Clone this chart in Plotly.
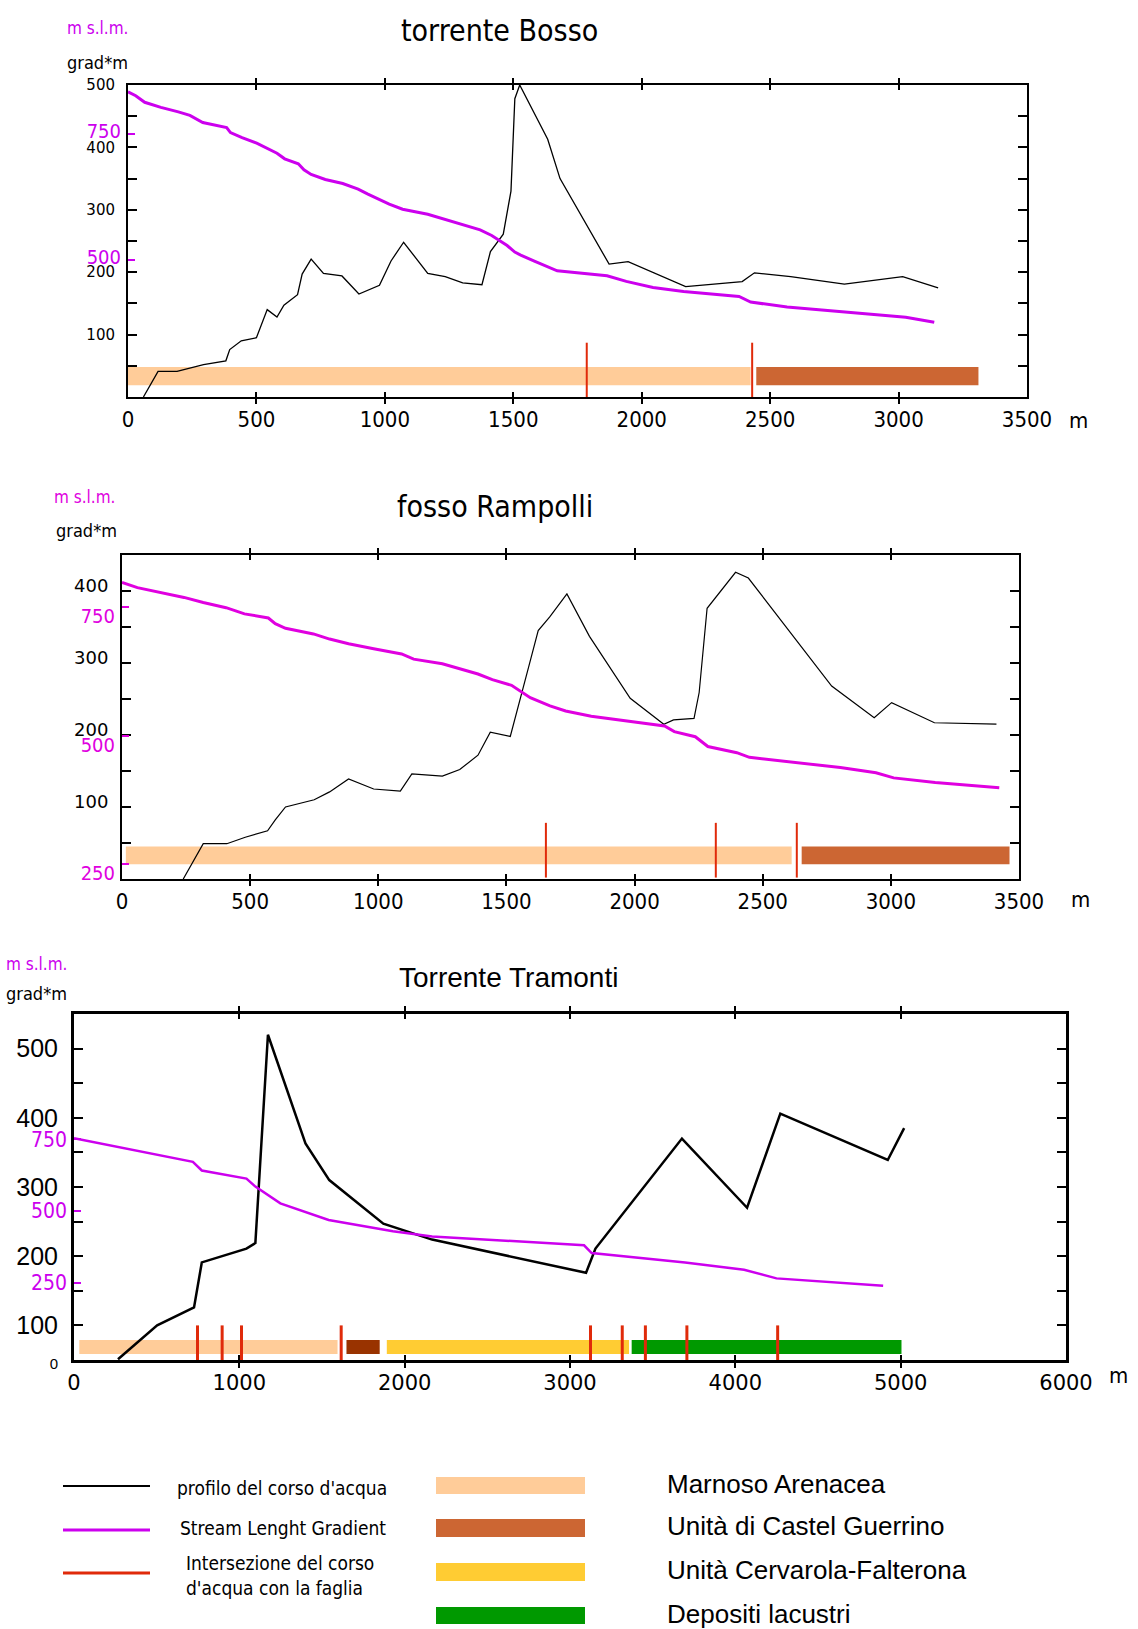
import plotly.graph_objects as go

W, H = 1138, 1629

# ---------------- DATA ----------------
# torrente Bosso
bosso_dist = [60, 117, 191, 294, 381, 396, 441, 500, 542, 580, 607, 660, 678, 713, 761, 833, 899, 979,
              1024, 1073, 1167, 1235, 1303, 1378, 1411, 1461, 1491, 1506, 1525, 1589, 1634, 1682, 1873,
              1947, 2171, 2391, 2439, 2580, 2789, 3016, 3154]
bosso_elev = [0, 41, 41, 52, 58, 76, 90, 95, 140, 128, 147, 164, 197, 221, 198, 194, 165, 179,
              218, 248, 198, 193, 183, 180, 233, 261, 330, 478, 500, 449, 413, 350, 213,
              217, 177, 185, 199, 193, 181, 193, 175]
bosso_sl_dist = [0, 30, 65, 128, 196, 241, 291, 384, 399, 444, 501, 580, 610, 663, 685, 713, 768, 836,
                 896, 934, 1017, 1069, 1167, 1243, 1371, 1416, 1476, 1506, 1529, 1582, 1671, 1865, 1940,
                 2044, 2163, 2379, 2424, 2566, 2789, 3028, 3139]
bosso_sl = [834, 826, 813, 803, 794, 787, 773, 763, 753, 743, 732, 712, 701, 691, 679, 670, 660, 652,
            641, 631, 611, 601, 591, 580, 560, 549, 529, 516, 510, 498, 479, 469, 458,
            446, 438, 428, 417, 407, 397, 387, 377]
bosso_faults = [1786, 2430]
bosso_unit_names = ["Marnoso Arenacea", "Unità di Castel Guerrino"]
bosso_unit_start = [0, 2446]
bosso_unit_end = [2424, 3311]
bosso_xticks = [0, 500, 1000, 1500, 2000, 2500, 3000, 3500]
bosso_yticks = [0, 50, 100, 150, 200, 250, 300, 350, 400, 450, 500]
bosso_ylabels = ["", "", "100", "", "200", "", "300", "", "400", "", "500"]
bosso_sl_ticks = [500, 750]

# fosso Rampolli
ramp_dist = [239, 317, 409, 481, 568, 598, 638, 750, 810, 884, 982, 1086, 1131, 1250, 1318, 1389, 1437,
             1515, 1587, 1624, 1669, 1736, 1824, 1983, 2114, 2152, 2232, 2252, 2283, 2394, 2444,
             2769, 2935, 3003, 3170, 3412]
ramp_elev = [0, 49, 49, 58, 67, 82, 100, 110, 121, 139, 125, 122, 146, 143, 152, 172, 204,
             198, 295, 345, 364, 396, 337, 251, 215, 221, 223, 259, 376, 426, 418,
             268, 224, 245, 217, 215]
ramp_sl_dist = [0, 60, 242, 317, 406, 478, 571, 598, 638, 747, 810, 884, 982, 1091, 1138, 1250, 1389,
                1445, 1520, 1593, 1670, 1731, 1831, 1924, 2117, 2155, 2237, 2286, 2399, 2448, 2649,
                2803, 2942, 3011, 3173, 3423]
ramp_sl = [798, 788, 769, 759, 749, 737, 729, 718, 709, 698, 688, 679, 669, 659, 649, 640, 620,
           609, 598, 574, 558, 548, 538, 532, 519, 508, 498, 479, 467, 458, 447,
           438, 428, 418, 409, 399]
ramp_faults = [1654, 2317, 2633]
ramp_unit_names = ["Marnoso Arenacea", "Unità di Castel Guerrino"]
ramp_unit_start = [15, 2652]
ramp_unit_end = [2613, 3463]
ramp_xticks = [0, 500, 1000, 1500, 2000, 2500, 3000, 3500]
ramp_yticks = [0, 50, 100, 150, 200, 250, 300, 350, 400, 450]
ramp_ylabels = ["", "", "100", "", "200", "", "300", "", "400", ""]
ramp_sl_ticks = [250, 500, 750]

# Torrente Tramonti
tram_dist = [266, 503, 726, 773, 1043, 1097, 1173, 1400, 1544, 1871, 2166, 3097, 3154, 3677, 4071,
             4272, 4922, 5021]
tram_elev = [51, 100, 126, 191, 211, 219, 520, 363, 310, 247, 224, 176, 211, 370, 270,
             406, 339, 385]
tram_sl_dist = [0, 719, 773, 1043, 1097, 1248, 1540, 1929, 2166, 2820, 3085, 3131, 3696, 4053, 4249, 4894]
tram_sl = [753, 671, 641, 613, 585, 527, 469, 430, 412, 390, 381, 354, 321, 296, 266, 240]
tram_faults = [747, 896, 1013, 1616, 3124, 3316, 3456, 3707, 4256]
tram_unit_names = ["Marnoso Arenacea", "unità non in legenda", "Unità Cervarola-Falterona", "Depositi lacustri"]
tram_unit_start = [32, 1648, 1892, 3373]
tram_unit_end = [1594, 1849, 3357, 5005]
tram_xticks = [0, 1000, 2000, 3000, 4000, 5000, 6000]
tram_yticks = [50, 100, 150, 200, 250, 300, 350, 400, 450, 500, 550]
tram_ylabels = ['<span style="font-size:15px">0</span>', "100", "", "200", "", "300", "", "400", "", "500", ""]
tram_sl_ticks = [250, 500, 750]

# legend
legend_lines = ["profilo del corso d'acqua", "Stream Lenght Gradient",
                "Intersezione del corso<br>d'acqua con la faglia"]
legend_units = ["Marnoso Arenacea", "Unità di Castel Guerrino", "Unità Cervarola-Falterona", "Depositi lacustri"]

# ---------------- STYLE ----------------
UNIT_COLORS = {"Marnoso Arenacea": "#FFCC99", "Unità di Castel Guerrino": "#CC6633",
               "unità non in legenda": "#993300", "Unità Cervarola-Falterona": "#FFCC33",
               "Depositi lacustri": "#009900"}
FAULT = "#E02A0A"
MAG1 = "#CC00EE"
MAG2 = "#E000E0"
NARROW = "DejaVu Sans Condensed, Liberation Sans Narrow, Arial Narrow, sans-serif"
WIDE = "DejaVu Sans, Verdana, sans-serif"
ARIAL = "Liberation Sans, Arial, sans-serif"


def px(x):
    return x / W


def py(y):
    return 1 - y / H


fig = go.Figure()

charts = [
    dict(xa="x", ya="y", ya2="y2", xd=(128, 1027), yd=(85, 397), xr=[0, 3500], yr=[0, 500],
         sr=[228.7, 847.3], dist=bosso_dist, elev=bosso_elev, sld=bosso_sl_dist, sl=bosso_sl,
         faults=bosso_faults, fy=(0, 87), un=bosso_unit_names, us=bosso_unit_start, ue=bosso_unit_end,
         uy=(19, 48), xt=bosso_xticks, yt=bosso_yticks, yl=bosso_ylabels, st=bosso_sl_ticks,
         mag=MAG1, bw=1.3, mw=3, lw=2, fw=2, xfont=dict(family=NARROW, size=22, color="black"),
         yfont=dict(family=WIDE, size=15, color="black"), sfont=dict(family=NARROW, size=20, color=MAG1),
         sshift=-3, yshift=0),
    dict(xa="x2", ya="y3", ya2="y4", xd=(122, 1019), yd=(555, 879), xr=[0, 3500], yr=[0, 450],
         sr=[221.3, 851.5], dist=ramp_dist, elev=ramp_elev, sld=ramp_sl_dist, sl=ramp_sl,
         faults=ramp_faults, fy=(2, 78), un=ramp_unit_names, us=ramp_unit_start, ue=ramp_unit_end,
         uy=(20.5, 45.3), xt=ramp_xticks, yt=ramp_yticks, yl=ramp_ylabels, st=ramp_sl_ticks,
         mag=MAG2, bw=1.2, mw=3, lw=2, fw=2, xfont=dict(family=NARROW, size=22, color="black"),
         yfont=dict(family=WIDE, size=18, color="black"), sfont=dict(family=NARROW, size=20, color=MAG2),
         sshift=9, yshift=-5),
    dict(xa="x3", ya="y5", ya2="y6", xd=(74, 1066), yd=(1014, 1360), xr=[0, 6000], yr=[50, 550],
         sr=[-17.8, 1185.2], dist=tram_dist, elev=tram_elev, sld=tram_sl_dist, sl=tram_sl,
         faults=tram_faults, fy=(50, 100), un=tram_unit_names, us=tram_unit_start, ue=tram_unit_end,
         uy=(58.5, 79), xt=tram_xticks, yt=tram_yticks, yl=tram_ylabels, st=tram_sl_ticks,
         mag=MAG1, bw=2.5, mw=2.5, lw=3, fw=3, xfont=dict(family=WIDE, size=21, color="black"),
         yfont=dict(family=ARIAL, size=25, color="black"), sfont=dict(family=NARROW, size=21, color=MAG1),
         sshift=0, yshift=0),
]

layout = {}
for c in charts:
    xkey = "xaxis" + c["xa"][1:]
    ykey = "yaxis" + c["ya"][1:]
    y2key = "yaxis" + c["ya2"][1:]
    layout[xkey] = dict(domain=[px(c["xd"][0]), px(c["xd"][1])], anchor=c["ya"], range=c["xr"],
                        tickvals=c["xt"], ticktext=[str(v) for v in c["xt"]], ticks="inside", ticklen=5,
                        tickwidth=1.5, tickcolor="black", mirror="allticks", showline=True,
                        linewidth=c["lw"], linecolor="black", showgrid=False, zeroline=False,
                        tickfont=c["xfont"], ticklabelstandoff=2, automargin=False, fixedrange=True)
    layout[ykey] = dict(domain=[py(c["yd"][1]), py(c["yd"][0])], anchor=c["xa"], range=c["yr"],
                        tickvals=c["yt"], ticktext=c["yl"], ticks="inside", ticklen=9, tickwidth=1.5,
                        tickcolor="black", mirror="allticks", showline=True, linewidth=c["lw"],
                        linecolor="black", showgrid=False, zeroline=False, tickfont=c["yfont"],
                        ticklabelstandoff=8, ticklabelshift=c["yshift"], automargin=False, fixedrange=True)
    layout[y2key] = dict(overlaying=c["ya"], side="left", anchor=c["xa"], range=c["sr"],
                         tickvals=c["st"], ticktext=[str(v) for v in c["st"]], ticks="inside", ticklen=7,
                         tickwidth=2, tickcolor=c["mag"], showline=False, showgrid=False, zeroline=False,
                         tickfont=c["sfont"], ticklabelstandoff=6, ticklabelshift=c["sshift"],
                         automargin=False, fixedrange=True)

    # river profile
    fig.add_trace(go.Scatter(x=c["dist"], y=c["elev"], xaxis=c["xa"], yaxis=c["ya"], mode="lines",
                             line=dict(color="black", width=c["bw"]), showlegend=False, hoverinfo="skip"))
    # stream length gradient
    fig.add_trace(go.Scatter(x=c["sld"], y=c["sl"], xaxis=c["xa"], yaxis=c["ya2"], mode="lines",
                             line=dict(color=c["mag"], width=c["mw"]), showlegend=False, hoverinfo="skip"))
    # geological units
    for name, s, e in zip(c["un"], c["us"], c["ue"]):
        fig.add_shape(type="rect", xref=c["xa"], yref=c["ya"], x0=s, x1=e, y0=c["uy"][0], y1=c["uy"][1],
                      fillcolor=UNIT_COLORS[name], line=dict(width=0), layer="below")
    # faults
    for f in c["faults"]:
        fig.add_shape(type="line", xref=c["xa"], yref=c["ya"], x0=f, x1=f, y0=c["fy"][0], y1=c["fy"][1],
                      line=dict(color=FAULT, width=c["fw"]))

annotations = []


def ann(text, x, y, size, family, color="black", xanchor="center", yanchor="middle", align="left"):
    annotations.append(dict(text=text, x=px(x), y=py(y), xref="paper", yref="paper", showarrow=False,
                            xanchor=xanchor, yanchor=yanchor, align=align,
                            font=dict(size=size, family=family, color=color)))


# titles
ann("torrente Bosso", 499, 31, 30, NARROW)
ann("fosso Rampolli", 495, 506, 30, NARROW)
ann("Torrente Tramonti", 508, 977, 28, ARIAL)
# axis unit labels
for (xm, ym, xg, yg, mc) in [(97, 28, 97, 62, MAG1), (84, 497, 86, 531, MAG2), (36, 964, 36, 993, MAG1)]:
    ann("m s.l.m.", xm, ym, 17, NARROW, color=mc)
    ann("grad*m", xg, yg, 18, NARROW)
ann("m", 1078, 420, 22, NARROW)
ann("m", 1080, 899, 22, NARROW)
ann("m", 1118, 1375, 22, NARROW)

# legend
leg_y = [1486, 1530, 1573]
leg_col = ["black", MAG1, FAULT]
leg_w = [2, 3, 3]
leg_text_x = [175, 178, 184]
leg_text_y = [1488, 1528, 1575]
for t, yy, col, lw, tx, ty in zip(legend_lines, leg_y, leg_col, leg_w, leg_text_x, leg_text_y):
    fig.add_shape(type="line", xref="paper", yref="paper", x0=px(63), x1=px(150), y0=py(yy), y1=py(yy),
                  line=dict(color=col, width=lw))
    ann(t, tx, ty, 19, NARROW, xanchor="left")

sw_y = [(1477, 1494), (1519, 1537), (1563, 1581), (1607, 1624)]
for name, (a, b) in zip(legend_units, sw_y):
    fig.add_shape(type="rect", xref="paper", yref="paper", x0=px(436), x1=px(585), y0=py(b), y1=py(a),
                  fillcolor=UNIT_COLORS[name], line=dict(width=0))
    ann(name, 665, (a + b) / 2 - 2, 26, ARIAL, xanchor="left")

layout.update(dict(width=W, height=H, autosize=False,
                   margin=dict(l=0, r=0, t=0, b=0, pad=0, autoexpand=False),
                   paper_bgcolor="white", plot_bgcolor="white", showlegend=False, annotations=annotations))
fig.update_layout(**layout)
fig.write_html("out.html", config={"displayModeBar": False, "responsive": False})
